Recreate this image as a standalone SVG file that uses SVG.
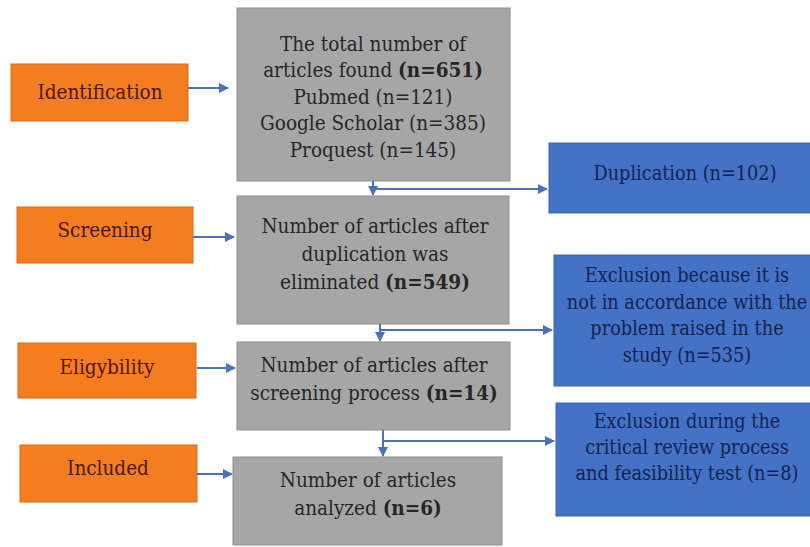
<svg xmlns="http://www.w3.org/2000/svg" width="810" height="547" viewBox="0 0 810 547">
<style>
.lab{fill:#F47D20;stroke:#D96A18;stroke-width:1}
.gry{fill:#A6A6A6;stroke:#8E8E8E;stroke-width:1}
.blu{fill:#4472C4;stroke:#3C64AC;stroke-width:1}
.t{font-family:'DejaVu Serif Condensed','DejaVu Serif','Liberation Serif',serif;font-stretch:condensed;font-size:20.5px;text-anchor:middle}
.tl{fill:#4A1808}
.tg{fill:#262626}
.tb{fill:#15234F;font-size:19.7px}
.b{font-weight:bold}
.c{stroke:#4A72B8;stroke-width:2;fill:none}
</style>
<defs>
<marker id="ah" viewBox="0 0 10 10" refX="9" refY="5" markerWidth="5" markerHeight="5" orient="auto" markerUnits="strokeWidth">
<path d="M0,0 L10,5 L0,10 z" fill="#4A72B8"/>
</marker>
</defs>
<rect width="810" height="547" fill="#fff"/>
<g id="n-identification"><rect class="lab" x="11" y="64" width="177" height="57"/><text class="t tl" x="100" y="99">Identification</text></g>
<g id="n-screening"><rect class="lab" x="17" y="207" width="176" height="56"/><text class="t tl" x="105" y="237">Screening</text></g>
<g id="n-eligybility"><rect class="lab" x="18" y="343" width="178" height="55"/><text class="t tl" x="107" y="374">Eligybility</text></g>
<g id="n-included"><rect class="lab" x="20" y="445" width="177" height="57"/><text class="t tl" x="108" y="475">Included</text></g>
<g id="n-total"><rect class="gry" x="237" y="8" width="273" height="173"/>
<text class="t tg" x="373" y="51">The total number of</text>
<text class="t tg" x="373" y="77">articles found <tspan class="b">(n=651)</tspan></text>
<text class="t tg" x="373" y="104">Pubmed (n=121)</text>
<text class="t tg" x="373" y="130">Google Scholar (n=385)</text>
<text class="t tg" x="373" y="157">Proquest (n=145)</text></g>
<g id="n-afterdup"><rect class="gry" x="237" y="196" width="272" height="128"/>
<text class="t tg" x="375" y="233">Number of articles after</text>
<text class="t tg" x="375" y="261">duplication was</text>
<text class="t tg" x="375" y="289">eliminated <tspan class="b">(n=549)</tspan></text></g>
<g id="n-afterscreen"><rect class="gry" x="237" y="342" width="273" height="88"/>
<text class="t tg" x="374" y="372">Number of articles after</text>
<text class="t tg" x="374" y="400">screening process <tspan class="b">(n=14)</tspan></text></g>
<g id="n-analyzed"><rect class="gry" x="233" y="457" width="269" height="88"/>
<text class="t tg" x="368" y="487">Number of articles</text>
<text class="t tg" x="368" y="515">analyzed <tspan class="b">(n=6)</tspan></text></g>
<g id="n-duplication"><rect class="blu" x="549" y="143" width="271" height="70"/>
<text class="t tb" x="685" y="180">Duplication (n=102)</text></g>
<g id="n-excl1"><rect class="blu" x="554" y="255" width="266" height="131"/>
<text class="t tb" x="687" y="282">Exclusion because it is</text>
<text class="t tb" x="687" y="309">not in accordance with the</text>
<text class="t tb" x="687" y="335">problem raised in the</text>
<text class="t tb" x="687" y="362">study (n=535)</text></g>
<g id="n-excl2"><rect class="blu" x="556" y="403" width="264" height="113"/>
<text class="t tb" x="687" y="428">Exclusion during the</text>
<text class="t tb" x="687" y="454">critical review process</text>
<text class="t tb" x="687" y="480">and feasibility test (n=8)</text></g>
<g id="connectors">
<line class="c" x1="188" y1="88" x2="228" y2="88" marker-end="url(#ah)"/>
<line class="c" x1="193" y1="237" x2="234" y2="237" marker-end="url(#ah)"/>
<line class="c" x1="197" y1="368" x2="235" y2="368" marker-end="url(#ah)"/>
<line class="c" x1="197" y1="474" x2="232" y2="474" marker-end="url(#ah)"/>
<line class="c" x1="373" y1="181" x2="373" y2="195" marker-end="url(#ah)"/>
<line class="c" x1="373" y1="189" x2="547" y2="189" marker-end="url(#ah)"/>
<line class="c" x1="380" y1="324" x2="380" y2="341" marker-end="url(#ah)"/>
<line class="c" x1="380" y1="330" x2="552" y2="330" marker-end="url(#ah)"/>
<line class="c" x1="383" y1="430" x2="383" y2="456" marker-end="url(#ah)"/>
<line class="c" x1="383" y1="441" x2="554" y2="441" marker-end="url(#ah)"/>
</g>
</svg>
